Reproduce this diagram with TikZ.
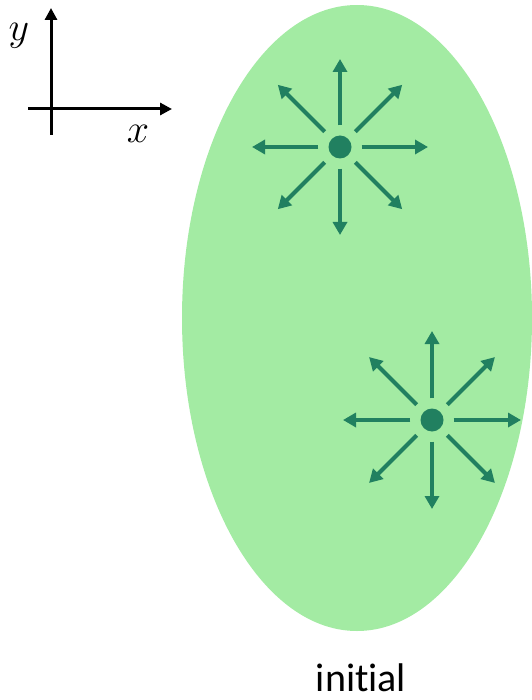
\documentclass[tikz,border=0pt]{standalone}
\usepackage{fix-cm}
\usepackage{fontspec}
\setmainfont{Carlito}[Ligatures={NoCommon,NoRare}]
\usepackage{xcolor}
\usetikzlibrary{arrows.meta}
\definecolor{blobgreen}{RGB}{163,235,163}
\definecolor{raygreen}{RGB}{33,128,96}

\begin{document}
\begin{tikzpicture}[
    x=1pt, y=-1pt,
    axis/.style={-{Triangle[length=12pt, width=12pt]}, line width=3pt, black},
    ray/.style={-{Triangle[length=13pt, width=14pt]}, line width=4pt, raygreen, shorten <=10pt},
    source/.style={circle, fill=raygreen, inner sep=0pt, minimum size=23pt},
    lbl/.style={font=\fontsize{40}{40}\selectfont}
]
\useasboundingbox (0,0) rectangle (531,700);

% Coordinate axes
\coordinate (origin) at (51,109);
\draw[axis] (51,135) -- (51,8) coordinate (ytip);
\draw[axis] (28,109) -- (172,109) coordinate (xtip);
\node[lbl] (ylabel) at (19,36) {$y$};
\node[lbl] (xlabel) at (138,134) {$x$};

% Initial region
\fill[blobgreen] (357,318) ellipse [x radius=175, y radius=313];
\node[font=\fontsize{40}{40}\selectfont, anchor=base, inner sep=0pt] (caption) at (361,691) {initial};

% Point sources with outward rays
\node[source] (src1) at (340,147) {};
\node[source] (src2) at (432,420) {};
\foreach \a in {0,45,...,315} {
    \draw[ray] (src1) -- ++(\a:88);
    \draw[ray] (src2) -- ++(\a:89);
}
\end{tikzpicture}
\end{document}
